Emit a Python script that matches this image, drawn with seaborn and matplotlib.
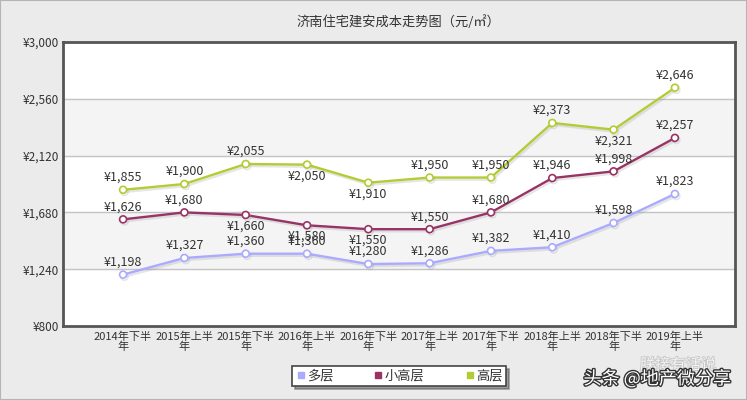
import pandas as pd
import matplotlib
matplotlib.use('Agg')
import matplotlib.pyplot as plt
import matplotlib.patheffects as pe
from matplotlib.lines import Line2D
from matplotlib.patches import Rectangle
import seaborn as sns

# chart data
periods = ['2014年下半年', '2015年上半年', '2015年下半年', '2016年上半年', '2016年下半年',
           '2017年上半年', '2017年下半年', '2018年上半年', '2018年下半年', '2019年上半年']
duoceng = [1198, 1327, 1360, 1360, 1280, 1286, 1382, 1410, 1598, 1823]
xiaogaoceng = [1626, 1680, 1660, 1580, 1550, 1550, 1680, 1946, 1998, 2257]
gaoceng = [1855, 1900, 2055, 2050, 1910, 1950, 1950, 2373, 2321, 2646]
series_names = ['多层', '小高层', '高层']
colors = ['#aaaaff', '#993366', '#b3cc33']
# label above (1) or below (-1) the point
label_side = {
    '多层': [1, 1, 1, 1, 1, 1, 1, 1, 1, 1],
    '小高层': [1, 1, -1, -1, -1, 1, 1, 1, 1, 1],
    '高层': [1, 1, 1, -1, -1, 1, 1, 1, -1, 1],
}
yticks = [800, 1240, 1680, 2120, 2560, 3000]

sns.set_style('white')
plt.rcParams['font.family'] = ['Noto Sans CJK SC', 'DejaVu Sans']

df = pd.DataFrame({'pos': list(range(len(periods))) * 3,
                   'value': duoceng + xiaogaoceng + gaoceng,
                   'type': [n for n in series_names for _ in periods]})

fig = plt.figure(figsize=(7.47, 4.0), dpi=100)
fig.patch.set_facecolor('#ebebeb')
fig.patches.append(Rectangle((0, 0), 1, 1, transform=fig.transFigure, fill=False,
                             edgecolor='#b5b5b5', linewidth=1.5))
ax = fig.add_axes([63 / 747, 74 / 400, 672 / 747, 284 / 400])
ax.set_facecolor('white')

# alternating bands and grid lines
ax.axhspan(1240, 1680, color='#f4f4f4', zorder=0)
ax.axhspan(2120, 2560, color='#f4f4f4', zorder=0)
for yv in yticks[1:-1]:
    ax.axhline(yv, color='#c4c4c4', linewidth=1, zorder=1)

shadow = [pe.SimpleLineShadow(offset=(1, -1.5), shadow_color='#999999', alpha=0.25), pe.Normal()]
for name, col in zip(series_names, colors):
    sub = df[df['type'] == name]
    sns.lineplot(data=sub, x='pos', y='value', color=col, linewidth=1.7, marker='o',
                 markersize=5, markerfacecolor='white', markeredgecolor=col,
                 markeredgewidth=1.2, ax=ax, legend=False, zorder=3,
                 path_effects=shadow)
    for i, v in enumerate(sub['value']):
        side = label_side[name][i]
        off = 9 if side > 0 else -8
        ax.annotate(f'¥{v:,}', (i, v), xytext=(0, off), textcoords='offset points',
                    ha='center', va='center', fontsize=9, color='#333333', zorder=5)

ax.set_xlim(-0.98, 9.98)
ax.set_ylim(800, 3000)
ax.set_yticks(yticks)
ax.set_yticklabels([f'¥{t:,}' for t in yticks])
ax.set_xticks(range(len(periods)))
ax.set_xticklabels([p[:-1] + '\n' + p[-1] for p in periods], linespacing=0.95)
ax.tick_params(axis='both', length=0, labelcolor='#333333')
ax.tick_params(axis='y', pad=3, labelsize=8.5)
ax.tick_params(axis='x', pad=4, labelsize=8)
ax.set_xlabel('')
ax.set_ylabel('')
for s in ax.spines.values():
    s.set_visible(True)
    s.set_color('#555555')
    s.set_linewidth(2)

fig.text(398 / 747, 1 - 22 / 400, '济南住宅建安成本走势图（元/㎡）', ha='center', va='center',
         fontsize=9.5, color='#333333')

handles = [Line2D([], [], linestyle='none', marker='s', markersize=5, color=c) for c in colors]
leg = fig.legend(handles, series_names, loc='center', bbox_to_anchor=(399 / 747, 1 - 376 / 400),
                 ncol=3, fontsize=9.5, frameon=True, fancybox=False, shadow=True,
                 handletextpad=0.1, columnspacing=3.0, borderpad=0.25, handlelength=0.8)
leg.get_frame().set_edgecolor('#444444')
leg.get_frame().set_linewidth(1.2)
for t in leg.get_texts():
    t.set_color('#333333')

# watermark
fig.text(678 / 747, 1 - 365 / 400, '朕接有话说', ha='center', va='center', fontsize=11,
         color='white', alpha=0.8,
         path_effects=[pe.withStroke(linewidth=1.2, foreground='#bbbbbb')])
fig.text(657 / 747, 1 - 379 / 400, '头条 @地产微分享', ha='center', va='center', fontsize=13,
         color='white', path_effects=[pe.withStroke(linewidth=2, foreground='#333333')])

fig.savefig('out.png', dpi=100, facecolor=fig.get_facecolor())
